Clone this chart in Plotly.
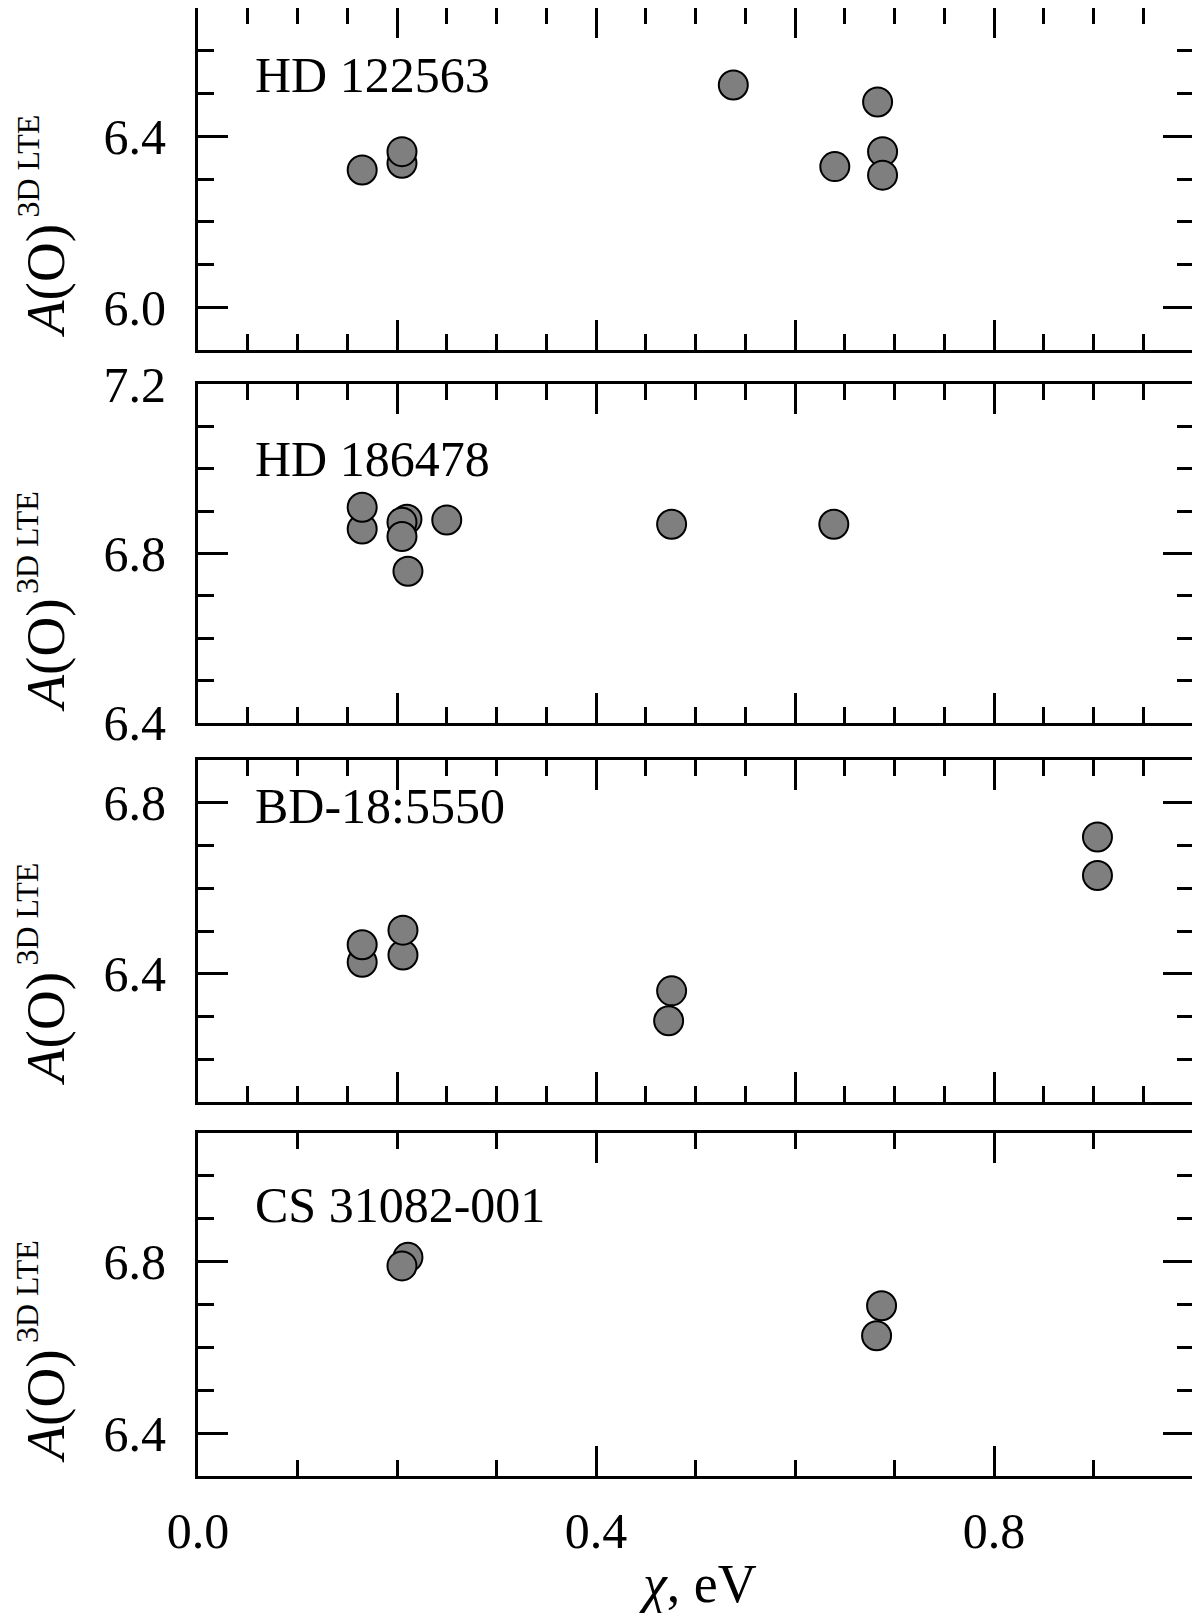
import plotly.graph_objects as go

# ---------------- data ----------------
stars = ["HD 122563", "HD 186478", "BD-18:5550", "CS 31082-001"]

chi_hd122563 = [0.165, 0.205, 0.205, 0.538, 0.640, 0.683, 0.688, 0.688]
ao_hd122563 = [6.321, 6.337, 6.364, 6.520, 6.329, 6.480, 6.364, 6.309]

chi_hd186478 = [0.165, 0.165, 0.210, 0.205, 0.205, 0.211, 0.250, 0.476, 0.639]
ao_hd186478 = [6.858, 6.909, 6.881, 6.874, 6.840, 6.758, 6.879, 6.869, 6.869]

chi_bd18 = [0.165, 0.165, 0.206, 0.206, 0.473, 0.476, 0.904, 0.904]
ao_bd18 = [6.427, 6.468, 6.444, 6.502, 6.290, 6.360, 6.630, 6.720]

chi_cs31082 = [0.211, 0.205, 0.687, 0.682]
ao_cs31082 = [6.810, 6.790, 6.697, 6.627]

y_ranges = [[5.9, 6.7], [6.3999, 7.2001], [6.1, 6.9], [6.3, 7.1]]
x_range = [0.0, 1.0]

series = [(chi_hd122563, ao_hd122563), (chi_hd186478, ao_hd186478),
          (chi_bd18, ao_bd18), (chi_cs31082, ao_cs31082)]

# ---------------- layout geometry ----------------
# page pixels; the browser page adds an 8px body margin, compensated here
OFF = 8
W, H = 1192, 1605


def fx(X):
    return (X - OFF) / W


def fy(Y):
    return 1 - (Y - OFF) / H


x_dom = [fx(198), fx(1193)]
panel_px = [(8, 350), (384, 723), (760, 1102), (1133, 1476)]
y_doms = [[fy(b), fy(t)] for t, b in panel_px]

FONT = "Liberation Serif, Times New Roman, serif"
fig = go.Figure()

for i, (xs, ys) in enumerate(series):
    n = "" if i == 0 else str(i + 1)
    fig.add_trace(go.Scatter(
        x=xs, y=ys, mode="markers",
        xaxis="x" + n, yaxis="y" + n,
        marker=dict(size=29, color="#7f7f7f",
                    line=dict(color="black", width=2)),
        showlegend=False, hoverinfo="x+y"))

    last = (i == 3)
    xa = dict(
        domain=x_dom, anchor="y" + n, range=x_range,
        showline=True, linecolor="black", linewidth=3, mirror="ticks",
        ticks="inside", ticklen=30, tickwidth=2.5, tickcolor="black",
        tick0=0, dtick=0.4 if last else 0.2,
        minor=dict(ticks="inside", ticklen=16, tickwidth=2.5,
                   tickcolor="black", dtick=0.1 if last else 0.05,
                   showgrid=False),
        showgrid=False, zeroline=False, automargin=False,
        showticklabels=last, tickformat=".1f",
        tickfont=dict(family=FONT, size=50, color="black"),
        ticklabelstandoff=9,
    )
    ya = dict(
        domain=y_doms[i], anchor="x" + n, range=y_ranges[i],
        showline=True, linecolor="black", linewidth=3, mirror="ticks",
        ticks="inside", ticklen=30, tickwidth=2.5, tickcolor="black",
        tick0=6.0, dtick=0.4,
        minor=dict(ticks="inside", ticklen=16, tickwidth=2.5,
                   tickcolor="black", dtick=0.1, showgrid=False),
        showgrid=False, zeroline=False, automargin=False,
        tickformat=".1f",
        tickfont=dict(family=FONT, size=50, color="black"),
        ticklabelstandoff=19,
    )
    fig.update_layout(**{"xaxis" + n: xa, "yaxis" + n: ya})

annotations = []
# star names
name_y_px = [75, 459, 806, 1205]
for i, s in enumerate(stars):
    annotations.append(dict(
        text=s, xref="paper", yref="paper", x=fx(253), y=fy(name_y_px[i]),
        xanchor="left", yanchor="middle", showarrow=False,
        font=dict(family=FONT, size=50, color="black")))

# y-axis titles: A(O) with raised "3D LTE"
main_y_px = [281, 655.5, 1029, 1406.5]
sup_y_px = [166.5, 543, 914.5, 1292]
for i in range(4):
    annotations.append(dict(
        text="<i>A</i>(O)", xref="paper", yref="paper",
        x=fx(45), y=fy(main_y_px[i]),
        xanchor="center", yanchor="middle", textangle=-90, showarrow=False,
        font=dict(family=FONT, size=55, color="black")))
    annotations.append(dict(
        text="3D LTE", xref="paper", yref="paper",
        x=fx(27), y=fy(sup_y_px[i]),
        xanchor="center", yanchor="middle", textangle=-90, showarrow=False,
        font=dict(family=FONT, size=32, color="black")))

# x-axis title
annotations.append(dict(
    text="<i>χ</i>, eV", xref="paper", yref="paper", x=fx(697), y=fy(1584),
    xanchor="center", yanchor="middle", showarrow=False,
    font=dict(family=FONT, size=54, color="black")))

fig.update_layout(
    width=W, height=H,
    margin=dict(l=0, r=0, t=0, b=0),
    paper_bgcolor="white", plot_bgcolor="white",
    annotations=annotations,
    font=dict(family=FONT, color="black"),
)

fig.write_html("out.html")
